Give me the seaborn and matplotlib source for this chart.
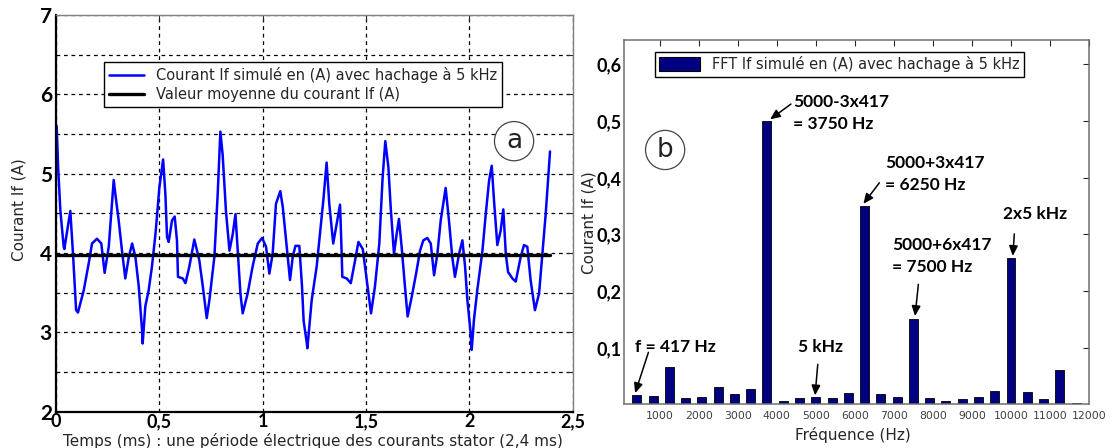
import numpy as np
import pandas as pd
import matplotlib
matplotlib.use("Agg")
import matplotlib.pyplot as plt
import seaborn as sns
from matplotlib.lines import Line2D
from matplotlib.patches import Patch

# ---------------- data : panel (a) ----------------
t_ms = [0.003, 0.010, 0.021, 0.037, 0.040, 0.069, 0.082, 0.097, 0.106, 0.134,
        0.158, 0.174, 0.198, 0.219, 0.235, 0.255, 0.279, 0.287, 0.303, 0.319,
        0.335, 0.352, 0.368, 0.384, 0.400, 0.416, 0.419, 0.432, 0.448, 0.464,
        0.481, 0.500, 0.518, 0.529, 0.537, 0.545, 0.561, 0.574, 0.585, 0.590,
        0.613, 0.626, 0.645, 0.669, 0.693, 0.710, 0.729, 0.742, 0.766, 0.782,
        0.795, 0.806, 0.822, 0.839, 0.855, 0.868, 0.879, 0.892, 0.903, 0.927,
        0.951, 0.976, 0.997, 1.016, 1.032, 1.048, 1.064, 1.085, 1.097, 1.113,
        1.132, 1.145, 1.158, 1.177, 1.190, 1.198, 1.213, 1.216, 1.237, 1.261,
        1.277, 1.293, 1.309, 1.322, 1.341, 1.358, 1.374, 1.382, 1.385, 1.406,
        1.426, 1.447, 1.463, 1.484, 1.503, 1.524, 1.543, 1.564, 1.580, 1.593,
        1.608, 1.619, 1.635, 1.648, 1.659, 1.672, 1.688, 1.701, 1.721, 1.742,
        1.761, 1.777, 1.796, 1.813, 1.829, 1.845, 1.861, 1.885, 1.901, 1.917,
        1.930, 1.950, 1.966, 1.979, 1.990, 2.006, 2.011, 2.022, 2.038, 2.063,
        2.079, 2.095, 2.108, 2.119, 2.135, 2.151, 2.164, 2.176, 2.187, 2.208,
        2.224, 2.248, 2.264, 2.280, 2.296, 2.317, 2.337, 2.353, 2.369, 2.390]
if_a = [5.60, 5.08, 4.53, 4.08, 4.05, 4.53, 3.99, 3.28, 3.25, 3.53,
        3.87, 4.12, 4.18, 4.12, 3.75, 4.08, 4.92, 4.74, 4.41, 4.03,
        3.68, 3.95, 4.12, 3.95, 3.58, 3.03, 2.86, 3.33, 3.53, 3.83,
        4.24, 4.83, 5.18, 4.74, 4.20, 4.14, 4.41, 4.46, 4.16, 3.70,
        3.68, 3.62, 3.83, 4.17, 3.91, 3.58, 3.18, 3.41, 3.95, 4.74,
        5.53, 5.24, 4.53, 4.03, 4.24, 4.49, 4.03, 3.49, 3.24, 3.49,
        3.83, 4.12, 4.19, 4.08, 3.74, 3.99, 4.62, 4.78, 4.58, 4.16,
        3.66, 3.95, 4.09, 4.09, 3.58, 3.14, 2.87, 2.80, 3.41, 3.83,
        4.24, 4.66, 5.14, 4.62, 4.12, 4.37, 4.61, 3.99, 3.70, 3.68,
        3.62, 3.91, 4.14, 4.05, 3.66, 3.24, 3.58, 4.12, 4.95, 5.41,
        5.08, 4.58, 3.99, 4.24, 4.43, 4.08, 3.58, 3.20, 3.45, 3.74,
        4.03, 4.16, 4.19, 4.12, 3.72, 3.99, 4.41, 4.82, 4.41, 3.95,
        3.70, 3.99, 4.16, 3.83, 3.41, 2.99, 2.78, 3.16, 3.53, 4.03,
        4.49, 4.91, 5.10, 4.66, 4.10, 4.28, 4.55, 3.99, 3.76, 3.68,
        3.64, 3.95, 4.10, 4.08, 3.66, 3.28, 3.49, 3.99, 4.49, 5.28]
mean_t = [0.0, 2.39]
mean_if = [3.97, 3.97]
a_xticks = [0, 0.5, 1, 1.5, 2, 2.5]
a_xticklabels = ["0", "0,5", "1", "1,5", "2", "2,5"]
a_yticks = [2, 2.5, 3, 3.5, 4, 4.5, 5, 5.5, 6, 6.5, 7]
a_yticklabels = ["2", "", "3", "", "4", "", "5", "", "6", "", "7"]

# ---------------- data : panel (b) ----------------
freq_hz = [417, 833, 1250, 1667, 2083, 2500, 2917, 3333, 3750, 4167,
           4583, 5000, 5417, 5833, 6250, 6667, 7083, 7500, 7917, 8333,
           8750, 9167, 9583, 10000, 10417, 10833, 11250, 11667]
fft_a = [0.016, 0.015, 0.067, 0.012, 0.014, 0.031, 0.019, 0.027, 0.500, 0.006,
         0.011, 0.014, 0.011, 0.021, 0.350, 0.018, 0.014, 0.150, 0.011, 0.007,
         0.009, 0.014, 0.024, 0.258, 0.022, 0.009, 0.061, 0.003]
b_xticks = [1000, 2000, 3000, 4000, 5000, 6000, 7000, 8000, 9000, 10000, 11000, 12000]
b_yticks = [0.1, 0.2, 0.3, 0.4, 0.5, 0.6]
b_yticklabels = ["0,1", "0,2", "0,3", "0,4", "0,5", "0,6"]

sns.set_theme(style="white")
plt.rcParams["font.family"] = ["DejaVu Sans"]

fig = plt.figure(figsize=(11.1, 4.48), dpi=100)
ax1 = fig.add_axes([0.0505, 0.081, 0.4655, 0.8855])
ax2 = fig.add_axes([0.5622, 0.0971, 0.419, 0.8136])

label_col = "#262626"
bold_font = dict(family="Lato", weight="bold")

# ---------------- panel (a) ----------------
sns.lineplot(x=t_ms, y=if_a, ax=ax1, color="#0000ff", lw=1.8,
             estimator=None, sort=False, legend=False)
sns.lineplot(x=mean_t, y=mean_if, ax=ax1, color="black", lw=2.4,
             estimator=None, sort=False, legend=False)
ax1.set_xlim(0, 2.5)
ax1.set_ylim(2, 7)
ax1.set_xticks(a_xticks)
ax1.set_xticklabels(a_xticklabels, fontsize=13, color="black", **bold_font)
ax1.set_yticks(a_yticks)
ax1.set_yticklabels(a_yticklabels, fontsize=15, color="black", **bold_font)
ax1.tick_params(axis="both", direction="in", length=4, width=0.8,
                top=True, right=True)
ax1.tick_params(axis="x", pad=1)
ax1.tick_params(axis="y", pad=3)
ax1.grid(True, color="black", linestyle=(0, (3, 3)), lw=0.9)
for s in ["left", "bottom"]:
    ax1.spines[s].set_color("black")
    ax1.spines[s].set_linewidth(1.6)
for s in ["top", "right"]:
    ax1.spines[s].set_color("#7f7f7f")
    ax1.spines[s].set_linewidth(1.0)
ax1.set_xlabel("Temps (ms) : une période électrique des courants stator (2,4 ms)",
               fontsize=11, color=label_col)
ax1.xaxis.set_label_coords(0.497, -0.053)
ax1.set_ylabel("Courant If (A)", fontsize=11, color=label_col)
ax1.yaxis.set_label_coords(-0.058, 0.51)

h1 = [Line2D([0], [0], color="#0000ff", lw=1.8),
      Line2D([0], [0], color="black", lw=2.4)]
leg1 = ax1.legend(h1, ["Courant If simulé en (A) avec hachage à 5 kHz",
                       "Valeur moyenne du courant If (A)"],
                  loc="upper left", bbox_to_anchor=(0.093, 0.882),
                  borderaxespad=0, fancybox=False, framealpha=1,
                  edgecolor="black", fontsize=10.5, handlelength=2.4,
                  borderpad=0.35, labelspacing=0.3, handletextpad=0.8)
leg1.get_frame().set_linewidth(1.0)
for tx in leg1.get_texts():
    tx.set_color(label_col)
ax1.text(2.216, 5.41, "a", fontsize=19, ha="center", va="center", color="#222",
         bbox=dict(boxstyle="circle,pad=0.25", fc="white", ec="#444", lw=0.9))

# ---------------- panel (b) ----------------
sns.barplot(x=freq_hz, y=fft_a, ax=ax2, native_scale=True, color="#000080",
            saturation=1, edgecolor="black", linewidth=0.6, width=0.55)
ax2.set_xlim(90, 12000)
ax2.set_ylim(0, 0.643)
ax2.set_xticks(b_xticks)
ax2.set_xticklabels([str(v) for v in b_xticks], fontsize=7.8, color="#404040")
ax2.set_yticks(b_yticks)
ax2.set_yticklabels(b_yticklabels, fontsize=13, color="black", **bold_font)
ax2.tick_params(axis="both", direction="in", length=4, width=0.8,
                top=True, right=True)
ax2.tick_params(axis="x", pad=5)
ax2.tick_params(axis="y", pad=2)
for s in ax2.spines.values():
    s.set_color("#6f6f6f")
    s.set_linewidth(1.1)
ax2.set_xlabel("Fréquence (Hz)", fontsize=11, color=label_col)
ax2.xaxis.set_label_coords(0.491, -0.062)
ax2.set_ylabel("Courant If (A)", fontsize=11, color=label_col)
ax2.yaxis.set_label_coords(-0.06, 0.5)

h2 = [Patch(facecolor="#000080", edgecolor="black", lw=0.8)]
leg2 = ax2.legend(h2, ["FFT If simulé en (A) avec hachage à 5 kHz"],
                  loc="upper left", bbox_to_anchor=(0.0667, 0.967),
                  borderaxespad=0, fancybox=False, framealpha=1,
                  edgecolor="black", fontsize=10.5, handlelength=2.8,
                  handleheight=1.1, borderpad=0.3, handletextpad=0.8)
leg2.get_frame().set_linewidth(1.0)
for tx in leg2.get_texts():
    tx.set_color(label_col)
ax2.text(1142, 0.449, "b", fontsize=19, ha="center", va="center", color="#222",
         bbox=dict(boxstyle="circle,pad=0.25", fc="white", ec="#444", lw=0.9))

ann_font = dict(fontsize=12.5, color="black", family="Lato", weight="bold",
                linespacing=1.45)
arrow = dict(arrowstyle="-|>,head_length=0.5,head_width=0.22", color="black",
             lw=1.1, shrinkA=0, shrinkB=0)

ax2.text(4414, 0.547, "5000-3x417\n= 3750 Hz", ha="left", va="top", **ann_font)
ax2.annotate("", xy=(3830, 0.503), xytext=(4364, 0.530), arrowprops=arrow)

ax2.text(6775, 0.440, "5000+3x417\n= 6250 Hz", ha="left", va="top", **ann_font)
ax2.annotate("", xy=(6219, 0.354), xytext=(6628, 0.391), arrowprops=arrow)

ax2.text(6945, 0.296, "5000+6x417\n= 7500 Hz", ha="left", va="top", **ann_font)
ax2.annotate("", xy=(7542, 0.156), xytext=(7627, 0.212), arrowprops=arrow)

ax2.text(9795, 0.336, "2x5 kHz", ha="left", va="center", **ann_font)
ax2.annotate("", xy=(10044, 0.262), xytext=(10085, 0.301), arrowprops=arrow)

ax2.text(374, 0.101, "f = 417 Hz", ha="left", va="center", **ann_font)
ax2.annotate("", xy=(374, 0.020), xytext=(714, 0.092), arrowprops=arrow)

ax2.text(4542, 0.101, "5 kHz", ha="left", va="center", **ann_font)
ax2.annotate("", xy=(4982, 0.016), xytext=(5051, 0.071), arrowprops=arrow)

fig.savefig("out.png", dpi=100)
